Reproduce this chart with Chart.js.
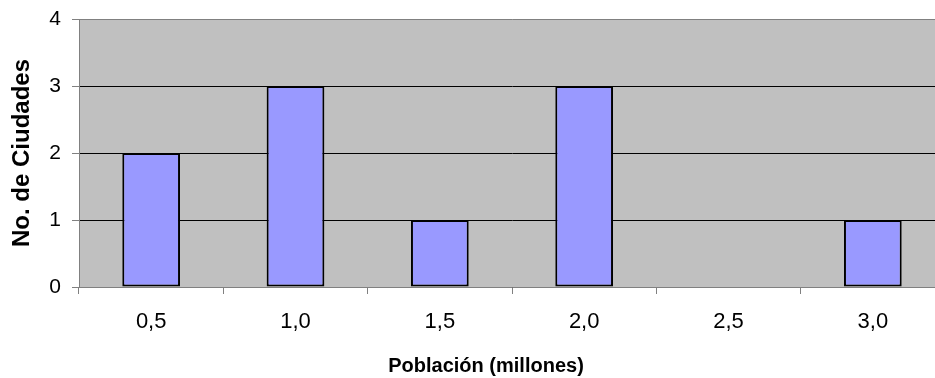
<!DOCTYPE html>
<html lang="es">
<head>
    <meta charset="UTF-8">
    <title>Ciudades por población</title>
    <script src="https://cdn.jsdelivr.net/npm/chart.js@4.4.0/dist/chart.umd.min.js"></script>
    <style>
        html, body { margin: 0; padding: 0; overflow: hidden; background: #fff; }
    </style>
</head>
<body>

<canvas id="chart" width="972" height="378"></canvas>

<script>

    // poblacion en millones y numero de ciudades
    const poblacion = ['0,5', '1,0', '1,5', '2,0', '2,5', '3,0'];
    const ciudades = [2, 3, 1, 3, 0, 1];
    const yTicks = [0, 1, 2, 3, 4];

    const plotBg = {
        id: 'plotBg',
        beforeDraw(chart) {
            const a = chart.chartArea;
            const ctx = chart.ctx;
            ctx.save();
            ctx.fillStyle = '#C0C0C0';
            ctx.fillRect(a.left, a.top, a.right - a.left, a.bottom - a.top);
            ctx.restore();
        }
    };

    const font = 'Arial, "Liberation Sans", sans-serif';

    const ctx = document.getElementById('chart').getContext('2d');
    const myChart = new Chart(ctx, {
        type: 'bar',
        data: {
            labels: poblacion,
            datasets: [{
                data: ciudades,
                backgroundColor: '#9999FF',
                borderColor: '#000000',
                borderWidth: (c) => c.raw === 0 ? 0 : 2,
                borderSkipped: false,
                barPercentage: 0.4,
                categoryPercentage: 1
            }]
        },
        options: {
            responsive: false,
            animation: false,
            layout: { padding: { top: 19, right: 27, left: 27, bottom: 0 } },
            plugins: {
                legend: { display: false },
                tooltip: { enabled: false },
                title: {
                    display: true,
                    position: 'bottom',
                    text: 'Población (millones)',
                    color: '#000',
                    font: { family: font, size: 20, weight: 'bold' },
                    padding: { top: 0, bottom: 0 }
                }
            },
            scales: {
                x: {
                    offset: true,
                    grid: {
                        offset: true,
                        drawOnChartArea: false,
                        drawTicks: true,
                        tickLength: 7,
                        color: '#808080'
                    },
                    border: { color: '#808080', width: 1 },
                    ticks: {
                        color: '#000',
                        font: { family: font, size: 22 },
                        padding: 15,
                        maxRotation: 0
                    },
                    afterFit: (s) => { s.height = 67; }
                },
                y: {
                    min: yTicks[0],
                    max: yTicks[yTicks.length - 1],
                    afterBuildTicks: (s) => { s.ticks = yTicks.map(v => ({ value: v })); },
                    grid: {
                        color: (c) => c.tick && c.tick.value === 4 ? '#808080' : '#000000',
                        tickColor: '#808080',
                        tickLength: 7,
                        lineWidth: 1
                    },
                    border: { color: '#808080', width: 1 },
                    ticks: {
                        color: '#000',
                        font: { family: font, size: 21 },
                        padding: 11
                    },
                    title: {
                        display: true,
                        text: 'No. de Ciudades',
                        color: '#000',
                        font: { family: font, size: 24, weight: 'bold' },
                        padding: { top: -19, bottom: 0 }
                    },
                    afterFit: (s) => {
                        s.width = 52;
                        s.paddingTop = 0;
                        s.paddingBottom = 0;
                    }
                }
            }
        },
        plugins: [plotBg]
    });

</script>

</body>
</html>
